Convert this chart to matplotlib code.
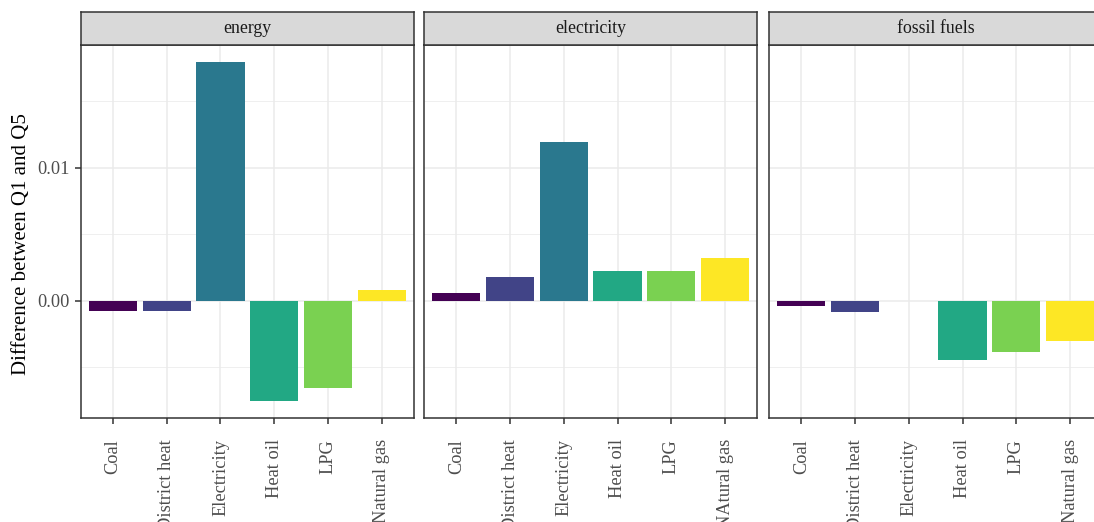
"""
Unterschied zwischen Q1 und Q5 nach Heizenergietraeger, drei Facetten.
"""
import matplotlib
matplotlib.use('Agg')
import matplotlib.pyplot as plt
from matplotlib.ticker import MultipleLocator

# Daten
panels = ['energy', 'electricity', 'fossil fuels']
kategorien = ['Coal', 'District heat', 'Electricity', 'Heat oil', 'LPG', 'Natural gas']
kategorien_mitte = ['Coal', 'District heat', 'Electricity', 'Heat oil', 'LPG', 'NAtural gas']
energy_werte = [-0.00082, -0.00082, 0.01797, -0.00757, -0.0066, 0.0008]
electricity_werte = [0.00058, 0.00178, 0.01197, 0.00223, 0.00223, 0.0032]
fossil_werte = [-0.0004, -0.00085, 0.0, -0.00445, -0.00385, -0.00302]
farben = ['#440154', '#414487', '#2A788E', '#22A884', '#7AD151', '#FDE725']

plt.rcParams['font.family'] = ['Liberation Serif', 'DejaVu Serif']

W, H = 1094, 522
fig = plt.figure(figsize=(W / 100, H / 100), dpi=100)

alle_werte = energy_werte + electricity_werte + fossil_werte
spanne = max(alle_werte) - min(alle_werte)
y_min = min(alle_werte) - 0.05 * spanne
y_max = max(alle_werte) + 0.05 * spanne

links = [80.7, 424.0, 769.0]
breite = 333.3
oben, unten = 45.0, 418.0
strip_oben = 11.7

daten = [energy_werte, electricity_werte, fossil_werte]
labels = [kategorien, kategorien_mitte, kategorien]
rand = '#333333'

for i, (name, werte, labs) in enumerate(zip(panels, daten, labels)):
    ax = fig.add_axes([links[i] / W, 1 - unten / H, breite / W, (unten - oben) / H])
    x = range(len(werte))
    ax.bar(x, werte, width=0.9, color=farben, zorder=3)
    ax.set_xlim(-0.6, len(werte) - 0.4)
    ax.set_ylim(y_min, y_max)
    ax.set_xticks(list(x))
    ax.set_xticklabels(labs, rotation=90, va='top', ha='center')
    ax.yaxis.set_major_locator(MultipleLocator(0.01))
    ax.yaxis.set_minor_locator(MultipleLocator(0.005))
    ax.grid(True, which='major', color='#EBEBEB', linewidth=1.1, zorder=0)
    ax.grid(True, which='minor', axis='y', color='#EBEBEB', linewidth=0.55, zorder=0)
    ax.set_axisbelow(True)
    ax.tick_params(axis='both', which='major', length=4.5, width=1.1, color=rand,
                   labelcolor='#4D4D4D', labelsize=13.2)
    ax.tick_params(axis='x', pad=10.5)
    ax.tick_params(axis='y', which='minor', length=0)
    for s in ax.spines.values():
        s.set_color(rand)
        s.set_linewidth(1.1)
    if i == 0:
        ax.set_yticks([0.0, 0.01])
        ax.set_yticklabels(['0.00', '0.01'])
    else:
        ax.tick_params(axis='y', which='both', left=False, labelleft=False)

    # Facettenkopf
    sx = fig.add_axes([links[i] / W, 1 - oben / H, breite / W, (oben - strip_oben) / H])
    sx.set_facecolor('#D9D9D9')
    sx.set_xticks([])
    sx.set_yticks([])
    for s in sx.spines.values():
        s.set_color(rand)
        s.set_linewidth(1.1)
    sx.text(0.5, 0.5, name, ha='center', va='center', fontsize=12.8,
            color='#1A1A1A', transform=sx.transAxes)

# y-Achsentitel, zentriert wie bei ggplot
fig.text(21.5 / W, 1 - 244 / H, 'Difference between Q1 and Q5', rotation=90,
         ha='center', va='center', fontsize=15, color='black')

fig.savefig('out.png', dpi=100)
